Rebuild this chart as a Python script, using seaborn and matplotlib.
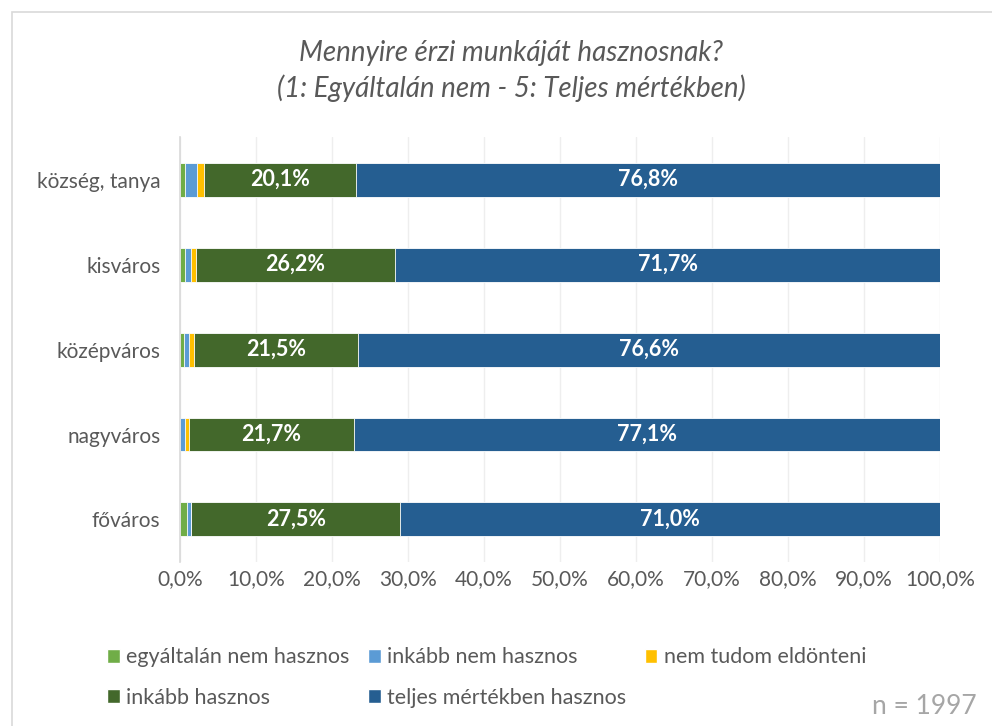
import numpy as np
import pandas as pd
import seaborn as sns
import matplotlib
matplotlib.use('Agg')
import matplotlib.pyplot as plt
from matplotlib.patches import Patch, Rectangle

# data (percent of respondents)
settlements = ['község, tanya', 'kisváros', 'középváros', 'nagyváros', 'főváros']
egyaltalan_nem = [0.7, 0.6, 0.5, 0.0, 0.9]
inkabb_nem = [1.5, 0.9, 0.7, 0.7, 0.6]
nem_tudom = [0.9, 0.6, 0.7, 0.5, 0.0]
inkabb_hasznos = [20.1, 26.2, 21.5, 21.7, 27.5]
teljes = [76.8, 71.7, 76.6, 77.1, 71.0]

series_names = ['egyáltalán nem hasznos', 'inkább nem hasznos', 'nem tudom eldönteni',
                'inkább hasznos', 'teljes mértékben hasznos']
series_vals = [egyaltalan_nem, inkabb_nem, nem_tudom, inkabb_hasznos, teljes]
colors = ['#70AD47', '#5B9BD5', '#FFC000', '#43682B', '#255E91']
labelled = [False, False, False, True, True]

sns.set_style('white')
plt.rcParams['font.family'] = ['Lato', 'DejaVu Sans']

df = pd.DataFrame({'hely': settlements})
for name, vals in zip(series_names, series_vals):
    df[name] = vals
cum = df[series_names].cumsum(axis=1)

fig = plt.figure(figsize=(9.92, 7.26), dpi=100)
ax = fig.add_axes([0.1815, 0.226, 0.766, 0.585])

# stacked bars: draw cumulative totals from the longest down so each sits on top
for name, col in reversed(list(zip(series_names, colors))):
    sns.barplot(x=cum[name], y=df['hely'], order=settlements, color=col,
                width=0.4, orient='h', edgecolor='white', linewidth=0.6,
                saturation=1, ax=ax, zorder=3)

for name, flag in zip(series_names, labelled):
    if not flag:
        continue
    for i, v in enumerate(df[name]):
        mid = cum[name][i] - v / 2
        ax.text(mid, i, f'{v:.1f}%'.replace('.', ','), ha='center', va='center',
                color='white', fontsize=15.5, fontweight='bold', zorder=4)

ax.set_xlim(0, 100)
ax.set_ylim(len(settlements) - 0.5, -0.5)
ax.set_xticks(np.arange(0, 101, 10))
ax.set_xticklabels([f'{t:.1f}%'.replace('.', ',') for t in np.arange(0, 101, 10)])
ax.set_xlabel('')
ax.set_ylabel('')
ax.grid(axis='x', color='#EEEEEE', linewidth=1, zorder=0)
ax.set_axisbelow(True)
ax.tick_params(axis='both', length=0, labelsize=15, colors='#595959')
ax.tick_params(axis='x', pad=5)
ax.tick_params(axis='y', pad=14)
for s in ['top', 'right', 'bottom']:
    ax.spines[s].set_visible(False)
ax.spines['left'].set_color('#D9D9D9')
ax.spines['left'].set_linewidth(1.2)
ax.spines['left'].set_zorder(5)

fig.text(0.515, 0.927, 'Mennyire érzi munkáját hasznosnak?', ha='center', va='center',
         fontsize=20, style='italic', color='#595959')
fig.text(0.515, 0.879, '(1: Egyáltalán nem - 5: Teljes mértékben)', ha='center', va='center',
         fontsize=20, style='italic', color='#595959')

# legend laid out row by row like the original
handles = [Patch(facecolor=c) for c in colors]
order = [0, 3, 1, 4, 2]
fig.legend([handles[i] for i in order], [series_names[i] for i in order],
           ncol=3, loc='upper left', bbox_to_anchor=(0.088, 0.135), frameon=False,
           handlelength=0.6, handleheight=0.6, handletextpad=0.3,
           columnspacing=0.85, labelspacing=0.95, fontsize=15.5, labelcolor='#595959')

fig.text(0.985, 0.027, 'n = 1997', ha='right', va='center', fontsize=19, color='#A6A6A6')

fig.patches.append(Rectangle((12 / 992, -0.05), 1.2, 1.05 - 12 / 726, transform=fig.transFigure,
                             fill=False, edgecolor='#D9D9D9', linewidth=1.2))

fig.savefig('out.png', dpi=100)
